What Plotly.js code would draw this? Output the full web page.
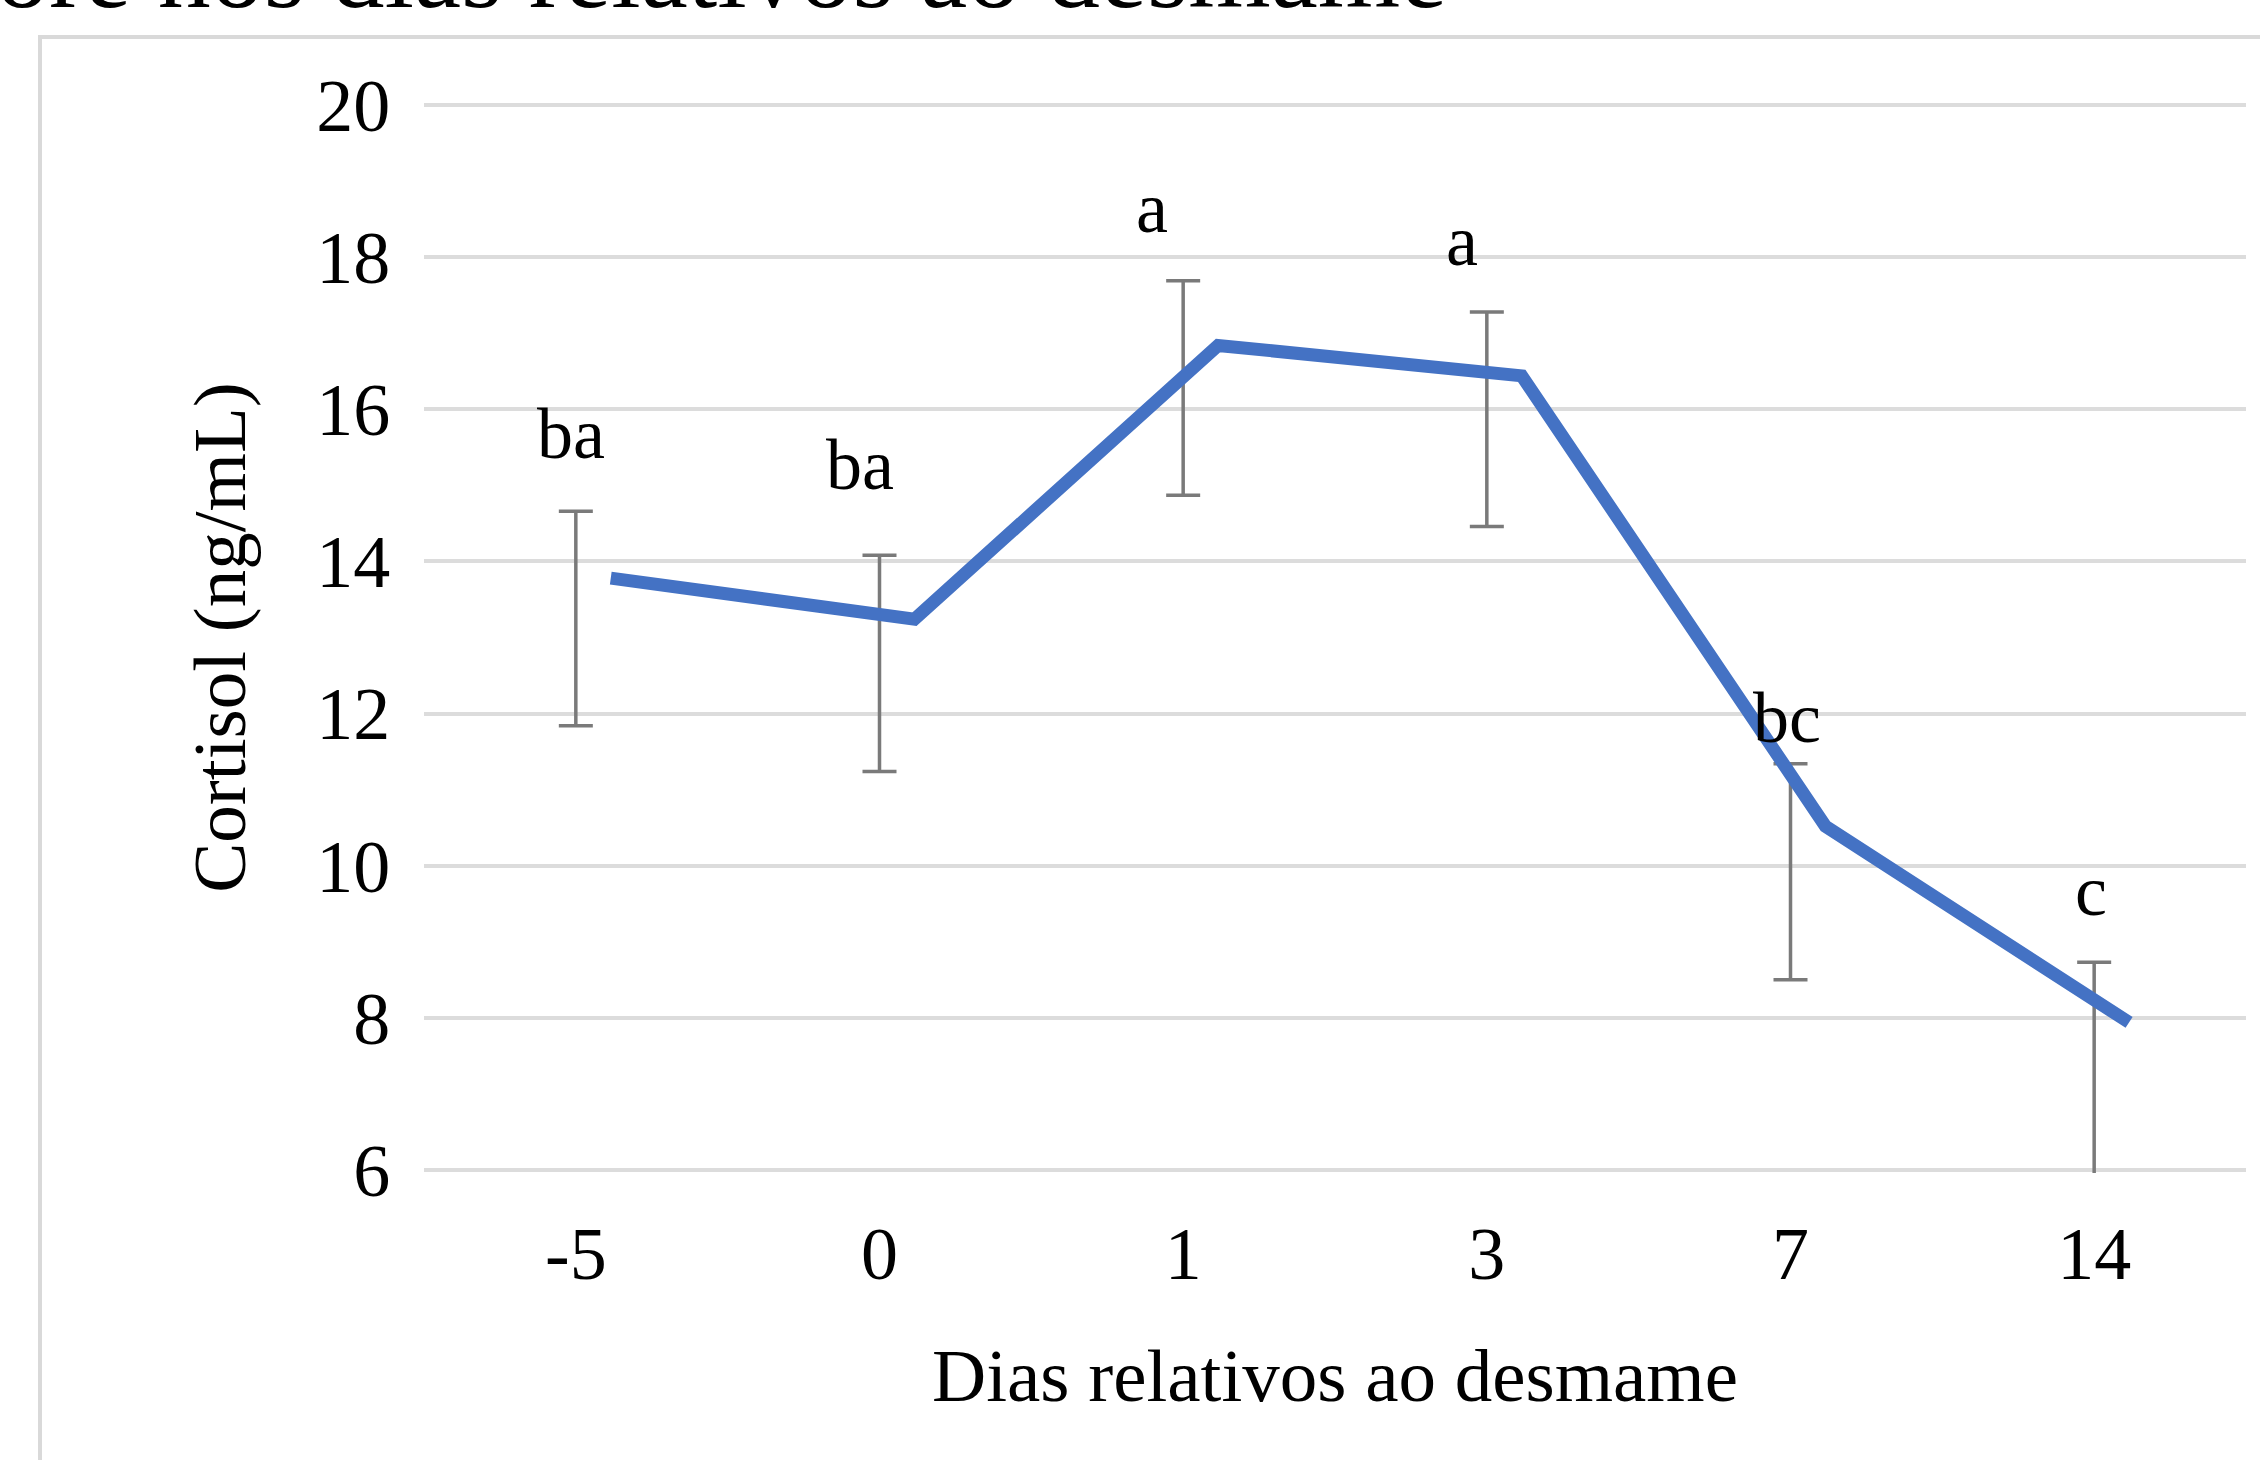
<!DOCTYPE html>
<html>
<head>
<meta charset="utf-8">
<script src="https://cdn.plot.ly/plotly-3.0.1.min.js"></script>
<style>
  html, body { margin: 0; padding: 0; background: #ffffff; }
  #chart { width: 2260px; height: 1460px; }
</style>
</head>
<body>
<div id="chart"></div>
<script>
// ---------------- DATA ----------------
const days = ['-5', '0', '1', '3', '7', '14'];
const cortisolMean = [13.78, 13.24, 16.84, 16.44, 10.52, 7.94];
const errorCenter = [13.25, 12.66, 16.28, 15.87, 9.92, 7.32];
const errorHalf = [1.41, 1.42, 1.41, 1.41, 1.42, 1.41];
const letters = ['ba', 'ba', 'a', 'a', 'bc', 'c'];
const titleText = 'ore nos dias relativos ao desmame';
const xTitle = 'Dias relativos ao desmame';
const yTitle = 'Cortisol (ng/mL)';

// ---------------- LAYOUT / STYLE ----------------
const W = 2260, H = 1460;
const M = { l: 424, r: 14, t: 102, b: 287 };
const PW = W - M.l - M.r, PH = H - M.t - M.b;
const px2x = p => (p - M.l) / PW;
const py2y = p => (H - M.b - p) / PH;

const lineOffset = 0.115;                 // line drawn shifted right of category centre
const labelDx = [-5, -20, -31, -25, -4, -3]; // px nudges of letter labels
const labelDy = [35, 48, 31, 29, 4, 29];
const serif = 'Liberation Serif, Times New Roman, serif';

const idx = days.map((d, i) => i);

const errTrace = {
  type: 'scatter', mode: 'markers',
  x: idx, y: errorCenter,
  marker: { size: 1, color: 'rgba(0,0,0,0)' },
  error_y: { type: 'data', array: errorHalf, visible: true, color: '#7a7a7a', thickness: 3.5, width: 17 },
  hoverinfo: 'skip', showlegend: false
};

const lineTrace = {
  type: 'scatter', mode: 'lines',
  x: idx.map(i => i + lineOffset), y: cortisolMean,
  line: { color: '#4472C4', width: 13 },
  hoverinfo: 'skip', showlegend: false
};

const annotations = letters.map((t, i) => ({
  text: t, x: idx[i], y: errorCenter[i] + errorHalf[i], xref: 'x', yref: 'y',
  xanchor: 'center', yanchor: 'bottom', showarrow: false,
  xshift: labelDx[i], yshift: labelDy[i],
  font: { family: serif, size: 72, color: '#000000' }
}));

annotations.push({
  text: titleText, xref: 'paper', yref: 'paper',
  x: px2x(-6), y: py2y(32), xanchor: 'left', yanchor: 'bottom', showarrow: false,
  font: { family: serif, size: 106, color: '#000000' }
});

const layout = {
  width: W, height: H,
  margin: M,
  paper_bgcolor: '#ffffff', plot_bgcolor: '#ffffff',
  showlegend: false,
  font: { family: serif, color: '#000000' },
  xaxis: {
    range: [-0.5, 5.5], tickvals: idx, ticktext: days,
    showgrid: false, zeroline: false, showline: false,
    ticks: 'outside', ticklen: 16, tickcolor: 'rgba(0,0,0,0)',
    tickfont: { family: serif, size: 74, color: '#000000' },
    title: { text: xTitle, standoff: 54, font: { family: serif, size: 75, color: '#000000' } }
  },
  yaxis: {
    range: [5.96, 20.04], dtick: 2, tick0: 6,
    showgrid: true, gridcolor: '#dcdcdc', gridwidth: 4,
    zeroline: false, showline: false,
    ticks: 'outside', ticklen: 18, tickcolor: 'rgba(0,0,0,0)',
    tickfont: { family: serif, size: 74, color: '#000000' },
    title: { text: yTitle, standoff: 45, font: { family: serif, size: 75, color: '#000000' } }
  },
  shapes: [{
    type: 'rect', xref: 'paper', yref: 'paper',
    x0: px2x(40), x1: px2x(2320), y0: py2y(1520), y1: py2y(37),
    line: { color: '#d9d9d9', width: 4 }, fillcolor: 'rgba(0,0,0,0)', layer: 'below'
  }],
  annotations: annotations
};

Plotly.newPlot('chart', [errTrace, lineTrace], layout, { displayModeBar: false, staticPlot: true });
</script>
</body>
</html>
